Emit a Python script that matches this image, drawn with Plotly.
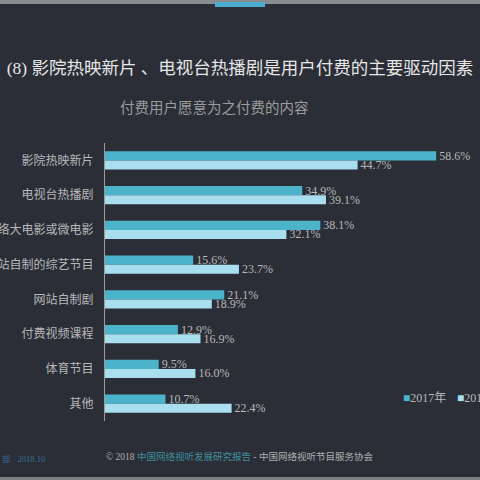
import plotly.graph_objects as go

# data
categories = ['影院热映新片', '电视台热播剧', '网络大电影或微电影', '网站自制的综艺节目',
              '网站自制剧', '付费视频课程', '体育节目', '其他']
y2017 = [58.6, 34.9, 38.1, 15.6, 21.1, 12.9, 9.5, 10.7]
y2018 = [44.7, 39.1, 32.1, 23.7, 18.9, 16.9, 16.0, 22.4]
series_names = ['2017年', '2018年']

bg = '#2b2e37'
c2017 = '#4cb4ca'
c2018 = '#a9deee'
txt = '#b8b8b8'
serif = 'Liberation Serif, Noto Sans CJK SC'

fig = go.Figure()
for name, vals, col in [(series_names[0], y2017, c2017), (series_names[1], y2018, c2018)]:
    fig.add_trace(go.Bar(
        y=categories, x=vals, name=name, orientation='h',
        marker=dict(color=col, line=dict(width=0)),
        text=[f'{v:.1f}%' for v in vals], textposition='outside',
        constraintext='none',
        textfont=dict(family=serif, size=12, color=txt),
        cliponaxis=False,
    ))

fig.update_layout(
    width=480, height=480,
    paper_bgcolor=bg, plot_bgcolor=bg,
    margin=dict(l=105, r=2, t=143, b=59),
    barmode='group', bargap=0.48, bargroupgap=0,
    showlegend=False,
    title=dict(text='(8) 影院热映新片 、电视台热播剧是用户付费的主要驱动因素',
               x=0.5, xanchor='center', y=1 - 68 / 480, yanchor='middle',
               font=dict(family=serif, size=17.5, color='#e6e6e6')),
    xaxis=dict(range=[0, 66], visible=False, fixedrange=True),
    yaxis=dict(autorange='reversed', showgrid=False, showline=True,
               linecolor='#9a9a9a', linewidth=1, ticks='', ticklabelstandoff=8,
               tickfont=dict(family=serif, size=12, color=txt), automargin=False),
)

def py(px):
    return (421 - px) / 278

def pxx(px):
    return (px - 105) / 373

fig.add_annotation(text='付费用户愿意为之付费的内容', xref='paper', yref='paper',
                   x=pxx(214), y=py(108), xanchor='center', yanchor='middle',
                   showarrow=False, font=dict(family=serif, size=14.5, color='#9c9c9c'))

footer = ('© 2018 <span style="color:#3f8e9e">中国网络视听发展研究报告</span>'
          ' - 中国网络视听节目服务协会')
fig.add_annotation(text=footer, xref='paper', yref='paper', x=pxx(239), y=py(456),
                   xanchor='center', yanchor='middle', showarrow=False,
                   font=dict(family=serif, size=9.5, color='#b0b0b0'))
fig.add_annotation(text='部 · 2018.10', xref='paper', yref='paper', x=pxx(0), y=py(459),
                   xanchor='left', yanchor='middle', showarrow=False,
                   font=dict(family=serif, size=8.5, color='#3a6f9a'))

# legend drawn as annotations so it may run past the right edge
for name, col, xl in [(series_names[0], c2017, 401), (series_names[1], c2018, 455)]:
    fig.add_annotation(text=f'<span style="color:{col}">■</span>{name}', xref='paper',
                       yref='paper', x=pxx(xl), y=py(398), xanchor='left', yanchor='middle',
                       showarrow=False, font=dict(family=serif, size=12, color=txt))

# screen frame strips
fig.add_shape(type='rect', xref='paper', yref='paper', x0=pxx(-5), x1=pxx(485),
              y0=py(4), y1=py(-5), fillcolor='#8a8c90', line_width=0)
fig.add_shape(type='rect', xref='paper', yref='paper', x0=pxx(215), x1=pxx(265),
              y0=py(7), y1=py(2), fillcolor='#4aaed0', line_width=0)
fig.add_shape(type='rect', xref='paper', yref='paper', x0=pxx(-5), x1=pxx(485),
              y0=py(485), y1=py(477), fillcolor='#7c7e82', line_width=0)

fig.write_html('out.html', config={'displayModeBar': False},
               post_script="document.body.style.margin='0';")
